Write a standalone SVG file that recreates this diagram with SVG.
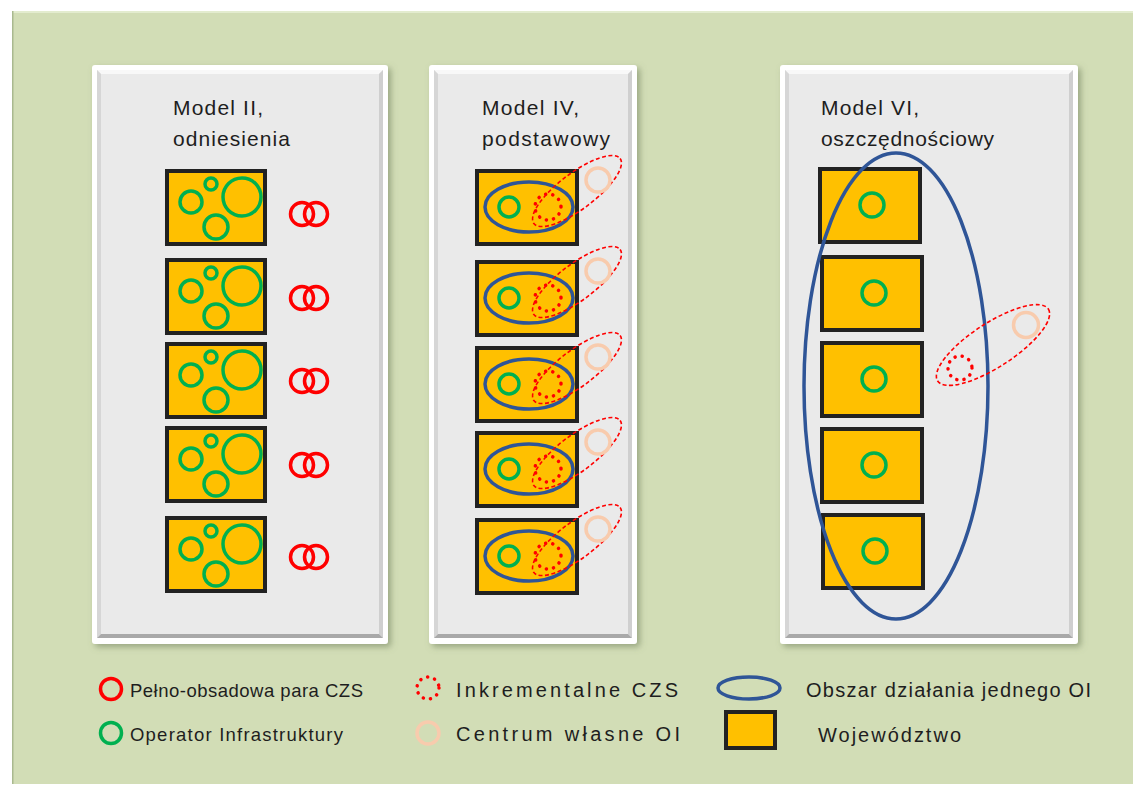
<svg xmlns="http://www.w3.org/2000/svg" xmlns:xlink="http://www.w3.org/1999/xlink" width="1133" height="787" viewBox="0 0 1133 787">
<style>
.t{font-family:"Liberation Sans",Arial,sans-serif;fill:#1e1e1e}
.title{font-size:21px}
.leg{font-size:18.5px}
.leg2{font-size:20px}
.prov{fill:#FFC000;stroke:#222;stroke-width:4}
.g{fill:none;stroke:#00B050;stroke-width:3.5}
.r{fill:none;stroke:#FF0000;stroke-width:3.5}
.dot{fill:none;stroke:#FF0000;stroke-width:3.5;stroke-linecap:round;stroke-dasharray:0.1 7.2}
.dash{fill:none;stroke:#FF0000;stroke-width:1.6;stroke-dasharray:4 2.5}
.pe{fill:none;stroke:#F8CBAD;stroke-width:3.5}
.bl{fill:none;stroke:#2F5597;stroke-width:3.5}
</style>
<defs>
<filter id="sh" x="-10%" y="-10%" width="120%" height="120%">
<feDropShadow dx="3" dy="3" stdDeviation="3" flood-color="#6b7a55" flood-opacity="0.55"/>
</filter>
<g id="prov1">
<rect class="prov" x="0" y="0" width="98" height="73"/>
<circle class="g" cx="24" cy="31" r="11"/>
<circle class="g" cx="44" cy="13" r="6"/>
<circle class="g" cx="75" cy="26" r="19"/>
<circle class="g" cx="49" cy="56" r="12"/>
</g>
<g id="pair">
<circle class="r" cx="0" cy="0" r="11.5"/>
<circle class="r" cx="14" cy="0" r="11.5"/>
</g>
<g id="prov2">
<rect class="prov" x="0" y="0" width="100" height="73"/>
<ellipse class="bl" cx="52" cy="36" rx="44" ry="25"/>
<circle class="g" cx="32" cy="36" r="10"/>
<circle class="dot" cx="71" cy="36" r="13"/>
<ellipse class="dash" cx="0" cy="0" rx="54" ry="18" transform="translate(100 20) rotate(-37)"/>
<circle class="pe" cx="121" cy="9" r="12"/>
</g>
<g id="prov3">
<rect class="prov" x="0" y="0" width="100" height="73"/>
<circle class="g" cx="52" cy="36" r="12"/>
</g>
</defs>

<g id="background">
<rect x="0" y="0" width="1133" height="787" fill="#ffffff"/>
<rect x="12" y="11" width="1121" height="773" fill="#D2DDB6"/>
<rect x="12" y="11" width="1121" height="2" fill="#E3ECCF"/>
<rect x="12" y="11" width="1.5" height="773" fill="#A9B98F"/>
</g>

<g id="panel-model-ii">
<rect x="92" y="65" width="296" height="579" rx="3" fill="#ffffff" filter="url(#sh)"/>
<rect x="97" y="70" width="286" height="568" fill="#EAEAEA"/>
<polygon points="97,70 383,70 379,74 101,74" fill="#F8F8F8"/>
<polygon points="97,70 101,74 101,634 97,638" fill="#D6D6D6"/>
<polygon points="383,70 383,638 379,634 379,74" fill="#CFCFCF"/>
<polygon points="97,638 101,634 379,634 383,638" fill="#A9A9A9"/>
<text class="t title" x="173" y="115" textLength="90" lengthAdjust="spacing">Model II,</text>
<text class="t title" x="173" y="146" textLength="117" lengthAdjust="spacing">odniesienia</text>
<use xlink:href="#prov1" x="167" y="171"/>
<use xlink:href="#prov1" x="167" y="260"/>
<use xlink:href="#prov1" x="167" y="344"/>
<use xlink:href="#prov1" x="167" y="428"/>
<use xlink:href="#prov1" x="167" y="518"/>
<use xlink:href="#pair" x="302" y="214"/>
<use xlink:href="#pair" x="302" y="298"/>
<use xlink:href="#pair" x="302" y="381"/>
<use xlink:href="#pair" x="302" y="465"/>
<use xlink:href="#pair" x="302" y="557"/>
</g>

<g id="panel-model-iv">
<rect x="429" y="65" width="208" height="579" rx="3" fill="#ffffff" filter="url(#sh)"/>
<rect x="434" y="70" width="198" height="568" fill="#EAEAEA"/>
<polygon points="434,70 632,70 628,74 438,74" fill="#F8F8F8"/>
<polygon points="434,70 438,74 438,634 434,638" fill="#D6D6D6"/>
<polygon points="632,70 632,638 628,634 628,74" fill="#CFCFCF"/>
<polygon points="434,638 438,634 628,634 632,638" fill="#A9A9A9"/>
<text class="t title" x="482" y="115" textLength="97" lengthAdjust="spacing">Model IV,</text>
<text class="t title" x="482" y="146" textLength="128" lengthAdjust="spacing">podstawowy</text>
<use xlink:href="#prov2" x="477" y="171"/>
<use xlink:href="#prov2" x="477" y="262"/>
<use xlink:href="#prov2" x="477" y="348"/>
<use xlink:href="#prov2" x="477" y="433"/>
<use xlink:href="#prov2" x="477" y="520"/>
</g>

<g id="panel-model-vi">
<rect x="780" y="65" width="298" height="579" rx="3" fill="#ffffff" filter="url(#sh)"/>
<rect x="785" y="70" width="288" height="568" fill="#EAEAEA"/>
<polygon points="785,70 1073,70 1069,74 789,74" fill="#F8F8F8"/>
<polygon points="785,70 789,74 789,634 785,638" fill="#D6D6D6"/>
<polygon points="1073,70 1073,638 1069,634 1069,74" fill="#CFCFCF"/>
<polygon points="785,638 789,634 1069,634 1073,638" fill="#A9A9A9"/>
<text class="t title" x="821" y="115" textLength="98" lengthAdjust="spacing">Model VI,</text>
<text class="t title" x="821" y="146" textLength="173" lengthAdjust="spacing">oszczędnościowy</text>
<use xlink:href="#prov3" x="820" y="169"/>
<use xlink:href="#prov3" x="822" y="257"/>
<use xlink:href="#prov3" x="822" y="343"/>
<use xlink:href="#prov3" x="822" y="429"/>
<use xlink:href="#prov3" x="823" y="515"/>
<ellipse class="bl" cx="896" cy="386" rx="92" ry="233"/>
<ellipse class="dash" cx="0" cy="0" rx="66" ry="22" transform="translate(993 345) rotate(-33)"/>
<circle class="dot" cx="960" cy="368" r="12"/>
<circle class="pe" cx="1026" cy="325" r="12.5"/>
</g>

<g id="legend">
<g id="legend-pelno">
<circle class="r" cx="111" cy="689" r="10.5" stroke-width="4"/>
<text class="t leg" x="130" y="697" textLength="233" lengthAdjust="spacing">Pełno-obsadowa para CZS</text>
</g>
<g id="legend-operator">
<circle class="g" cx="111" cy="733" r="10.5" stroke-width="4"/>
<text class="t leg" x="130" y="741" textLength="213" lengthAdjust="spacing">Operator Infrastruktury</text>
</g>
<g id="legend-inkrementalne">
<circle class="dot" cx="428" cy="688" r="11"/>
<text class="t leg2" x="456" y="697" textLength="222" lengthAdjust="spacing">Inkrementalne CZS</text>
</g>
<g id="legend-centrum">
<circle class="pe" cx="428" cy="733" r="11"/>
<text class="t leg2" x="456" y="741" textLength="224" lengthAdjust="spacing">Centrum własne OI</text>
</g>
<g id="legend-obszar">
<ellipse class="bl" cx="749" cy="688" rx="31" ry="11"/>
<text class="t leg2" x="806" y="697" textLength="285" lengthAdjust="spacing">Obszar działania jednego OI</text>
</g>
<g id="legend-wojewodztwo">
<rect class="prov" x="726" y="712" width="49" height="36"/>
<text class="t leg2" x="818" y="742" textLength="143" lengthAdjust="spacing">Województwo</text>
</g>
</g>
</svg>
